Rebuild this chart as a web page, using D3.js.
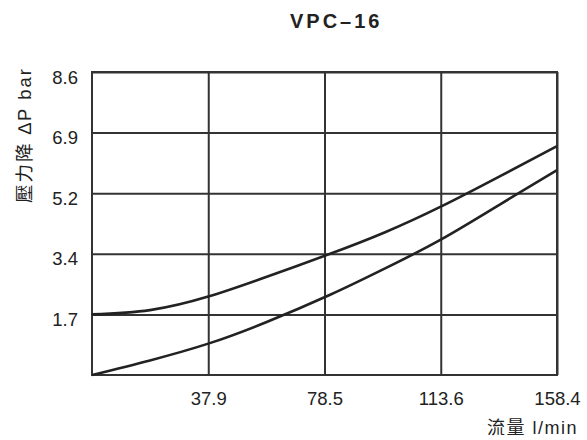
<!DOCTYPE html>
<html>
<head>
<meta charset="utf-8">
<script src="https://cdn.jsdelivr.net/npm/d3@7"></script>
<style>
  body { margin: 0; background: #fff; }
  text { font-family: "Liberation Sans", Arial, "Noto Sans CJK TC", sans-serif; fill: #222; }
</style>
</head>
<body>
<div id="chart"></div>
<script>
// flow (l/min) and pressure drop (bar)
var flowTicks = [37.9, 78.5, 113.6, 158.4];
var presTicks = [1.7, 3.4, 5.2, 6.9, 8.6];
var flow  = [0, 18.9, 37.9, 58.1, 80.2, 96.8, 113.6, 136.5, 158.4];
var upper = [1.7, 1.82, 2.20, 2.75, 3.40, 4.04, 4.80, 5.68, 6.52];
var lower = [0, 0.41, 0.88, 1.48, 2.25, 2.99, 3.82, 4.87, 5.85];

var W = 587, H = 440;
var pLeft = 92, pRight = 557, pTop = 72, pBottom = 375;

var svg = d3.select("#chart").append("svg").attr("width", W).attr("height", H);

// the axis ticks are evenly spaced although the values are not
var x = d3.scaleLinear().domain([0].concat(flowTicks))
    .range(d3.range(5).map(function(i){ return pLeft + i * (pRight - pLeft) / 4; }));
var y = d3.scaleLinear().domain([0].concat(presTicks))
    .range(d3.range(6).map(function(i){ return pBottom - i * (pBottom - pTop) / 5; }));

var gx = svg.append("g").attr("transform", "translate(0," + pBottom + ")")
    .call(d3.axisBottom(x).tickValues(flowTicks).tickSize(-(pBottom - pTop)).tickPadding(0)
        .tickFormat(function(d){ return d3.format(".1f")(d); }));
gx.select(".domain").remove();
gx.selectAll("line").attr("stroke", "#333").attr("stroke-width", 2);
gx.selectAll("text").attr("font-size", "18.5px").attr("dy", null).attr("y", 30).attr("fill", "#222");

var gy = svg.append("g").attr("transform", "translate(" + pLeft + ",0)")
    .call(d3.axisLeft(y).tickValues(presTicks).tickSize(-(pRight - pLeft)).tickPadding(14)
        .tickFormat(function(d){ return d3.format(".1f")(d); }));
gy.select(".domain").remove();
gy.selectAll("line").attr("stroke", "#333").attr("stroke-width", 2);
gy.selectAll("text").attr("font-size", "18.5px").attr("dy", 11).attr("fill", "#222");

svg.append("rect").attr("x", pLeft).attr("y", pTop)
    .attr("width", pRight - pLeft).attr("height", pBottom - pTop)
    .attr("fill", "none").attr("stroke", "#333").attr("stroke-width", 2);

var line = d3.line().curve(d3.curveNatural);
[upper, lower].forEach(function(s){
  svg.append("path")
    .attr("d", line(flow.map(function(f, i){ return [x(f), y(s[i])]; })))
    .attr("fill", "none").attr("stroke", "#222").attr("stroke-width", 2.6);
});

svg.append("text").attr("x", 290).attr("y", 28)
    .attr("font-size", "20px").attr("font-weight", "bold").attr("letter-spacing", "3px")
    .text("VPC–16");

svg.append("text").attr("transform", "translate(31,135) rotate(-90)")
    .attr("text-anchor", "middle").attr("font-size", "18.5px").attr("letter-spacing", "2px")
    .text("壓力降 ∆P bar");

svg.append("text").attr("x", 578).attr("y", 434)
    .attr("text-anchor", "end").attr("font-size", "18px").attr("letter-spacing", "1.5px")
    .text("流量 l/min");
</script>
</body>
</html>
